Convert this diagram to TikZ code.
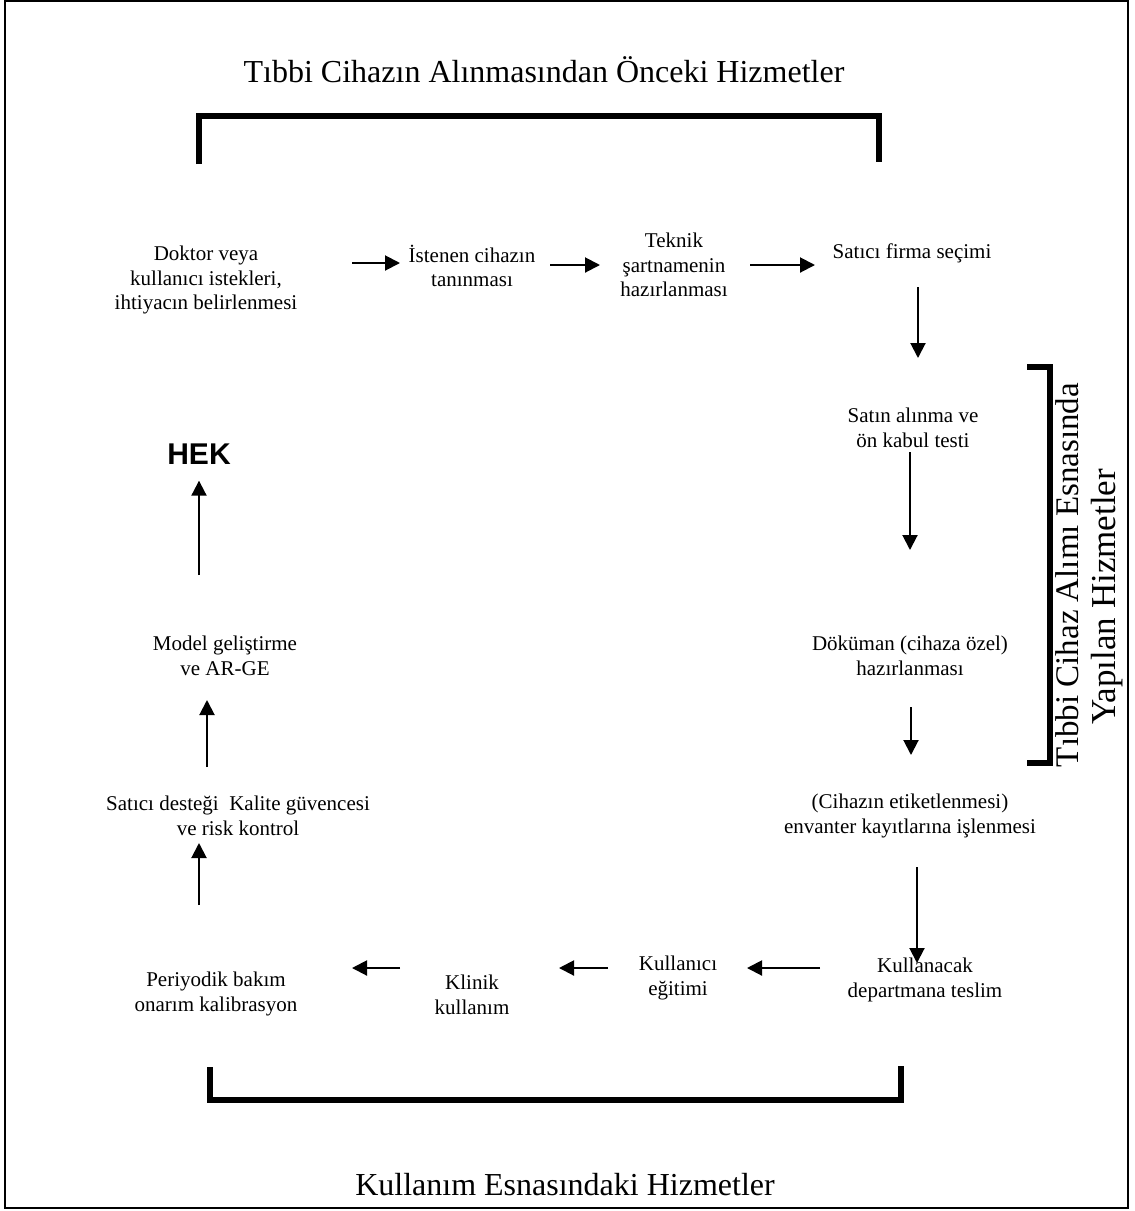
\documentclass[tikz,border=0pt]{standalone}
\usepackage{fontspec}
\setmainfont{Liberation Serif}
\newfontfamily\hekfont{Liberation Sans}
\usetikzlibrary{arrows.meta,calc}

\begin{document}
\begin{tikzpicture}[x=1pt,y=-1pt,
  lbl/.style={align=center,inner sep=0pt,font=\fontsize{21}{24.5}\selectfont},
  big/.style={inner sep=0pt,anchor=base,font=\fontsize{32}{36}\selectfont},
  arr/.style={line width=2pt,-{Triangle[length=15pt,width=15pt]}},
  brk/.style={line width=6pt,line join=miter}]

\useasboundingbox (0,0) rectangle (1135,1211);
\draw[line width=2pt] (5,1) rectangle (1128,1208);

% section headings
\node[big] (pre) at (544,82) {Tıbbi Cihazın Alınmasından Önceki Hizmetler};
\node[big] (use) at (565,1195) {Kullanım Esnasındaki Hizmetler};
\node[big,rotate=90,font=\fontsize{33}{37}\selectfont] (durA) at (1078,575) {Tıbbi Cihaz Alımı Esnasında};
\node[big,rotate=90,font=\fontsize{35}{39}\selectfont] (durB) at (1115,597) {Yapılan Hizmetler};

% brackets
\draw[brk] (199,164) -- (199,116) -- (879,116) -- (879,162);
\draw[brk] (1027,367) -- (1050,367) -- (1050,763) -- (1027,763);
\draw[brk] (210,1067) -- (210,1100) -- (901,1100) -- (901,1066);

% process steps
\node[lbl] (doktor) at (206,280) {Doktor veya\\kullanıcı istekleri,\\ihtiyacın belirlenmesi};
\node[lbl] (istenen) at (472,266) {İstenen cihazın\\tanınması};
\node[lbl] (teknik) at (674,265) {Teknik\\şartnamenin\\hazırlanması};
\node[lbl] (satici) at (912,253) {Satıcı firma seçimi};
\node[lbl] (satin) at (913,428) {Satın alınma ve\\ön kabul testi};
\node[lbl] (dokuman) at (910,656) {Döküman (cihaza özel)\\hazırlanması};
\node[lbl] (etiket) at (910,816) {(Cihazın etiketlenmesi)\\envanter kayıtlarına işlenmesi};
\node[lbl] (kullanacak) at (925,980) {Kullanacak\\departmana teslim};
\node[lbl] (egitim) at (678,978) {Kullanıcı\\eğitimi};
\node[lbl] (klinik) at (472,995) {Klinik\\kullanım};
\node[lbl] (periyodik) at (216,994) {Periyodik bakım\\onarım kalibrasyon};
\node[lbl] (destek) at (238,816) {Satıcı desteği\ \ Kalite güvencesi\\ve risk kontrol};
\node[lbl] (model) at (225,656) {Model geliştirme\\ve AR-GE};
\node[inner sep=0pt,anchor=base,font=\hekfont\bfseries\fontsize{30}{34}\selectfont] (hek) at (199,464) {HEK};

% flow arrows
\draw[arr] ($(doktor)+(146,-17)$) -- ($(istenen)+(-72,-3)$);
\draw[arr] ($(istenen)+(78,-1)$) -- ($(teknik)+(-74,0)$);
\draw[arr] ($(teknik)+(76,0)$) -- ($(satici)+(-97,12)$);
\draw[arr] ($(satici)+(6,34)$) -- ($(satin)+(5,-70)$);
\draw[arr] ($(satin)+(-3,24)$) -- ($(dokuman)+(0,-106)$);
\draw[arr] ($(dokuman)+(1,51)$) -- ($(etiket)+(1,-61)$);
\draw[arr] ($(etiket)+(7,51)$) -- ($(kullanacak)+(-8,-17)$);
\draw[arr] ($(kullanacak)+(-105,-12)$) -- ($(egitim)+(69,-10)$);
\draw[arr] ($(egitim)+(-70,-10)$) -- ($(klinik)+(87,-27)$);
\draw[arr] ($(klinik)+(-72,-27)$) -- ($(periyodik)+(136,-26)$);
\draw[arr] ($(periyodik)+(-17,-89)$) -- ($(destek)+(-39,27)$);
\draw[arr] ($(destek)+(-31,-49)$) -- ($(model)+(-18,44)$);
\draw[arr] ($(model)+(-26,-81)$) -- ($(hek)+(0,27)$);
\end{tikzpicture}
\end{document}
